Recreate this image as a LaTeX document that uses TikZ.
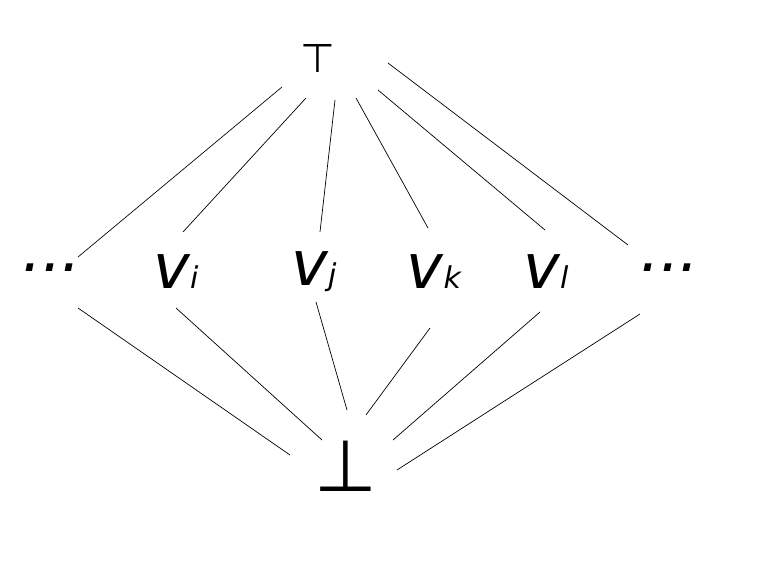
\documentclass[tikz,border=0pt]{standalone}
\usepackage{fontspec}
\setmainfont{DejaVu Sans}
\begin{document}
\begin{tikzpicture}[x=1pt,y=-1pt,
  lab/.style={inner sep=0pt,anchor=center},
  big/.style={lab,font=\fontsize{62}{62}\selectfont\itshape},
  edge/.style={line width=0.7pt}]
\useasboundingbox (0,0) rectangle (766,572);
\node[lab,font=\fontsize{40}{40}\selectfont] (top) at (318,58) {⊤};
\node[lab,font=\fontsize{72}{72}\selectfont] (bot) at (346,466) {⊥};
\node[big] (dl) at (52,268) {...};
\node[big] (vi) at (176,272) {v\fontsize{30}{30}\selectfont i};
\node[big] (vj) at (314,272) {v\fontsize{30}{30}\selectfont j};
\node[big] (vk) at (434,272) {v\fontsize{30}{30}\selectfont k};
\node[big] (vl) at (546,272) {v\fontsize{30}{30}\selectfont l};
\node[big] (dr) at (670,268) {...};
\foreach \n/\a/\b/\c/\d in {dl/282/87/78/257, vi/306/98/183/232, vj/335/100/320/232, vk/356/98/428/228, vl/378/90/545/230, dr/388/63/628/245}
  {\coordinate (t\n) at (\a,\b); \coordinate (u\n) at (\c,\d); \draw[edge] (t\n) -- (u\n);}
\foreach \n/\a/\b/\c/\d in {dl/78/308/290/455, vi/176/308/322/440, vj/316/302/347/410, vk/430/328/366/415, vl/540/312/393/440, dr/640/314/397/470}
  {\coordinate (s\n) at (\a,\b); \coordinate (b\n) at (\c,\d); \draw[edge] (s\n) -- (b\n);}
\end{tikzpicture}
\end{document}
